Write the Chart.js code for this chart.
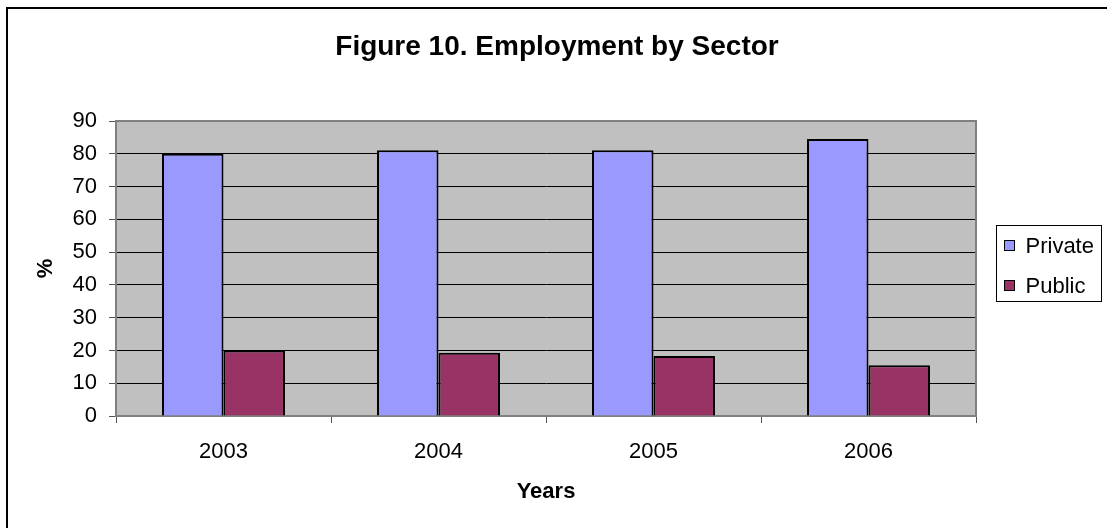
<!DOCTYPE html>
<html lang="en">
<head>
    <meta charset="UTF-8">
    <title>Employment by Sector</title>
    <script src="https://cdn.jsdelivr.net/npm/chart.js"></script>
    <style>
        html, body {
            margin: 0;
            padding: 0;
            background: #ffffff;
        }
        canvas {
            display: block;
        }
    </style>
</head>
<body>
<canvas id="sectorChart" width="1107" height="528"></canvas>

<script>
    // Share of employment (%) by sector
    const years = ["2003", "2004", "2005", "2006"];
    const privateShare = [80, 81.1, 81.1, 84.5];
    const publicShare = [20, 19.3, 18.3, 15.5];
    const yTicks = [0, 10, 20, 30, 40, 50, 60, 70, 80, 90];

    const FONT = "'Liberation Sans', Arial, sans-serif";

    // Frame, title, grey plot background and boxed legend
    const decorations = {
        id: 'decorations',
        beforeDraw(chart) {
            const {ctx, chartArea: a} = chart;
            ctx.save();
            ctx.fillStyle = '#ffffff';
            ctx.fillRect(0, 0, chart.width, chart.height);
            ctx.strokeStyle = '#000000';
            ctx.lineWidth = 2;
            ctx.strokeRect(7, 8, chart.width + 10, chart.height + 10);

            ctx.fillStyle = '#000000';
            ctx.font = 'bold 28px ' + FONT;
            ctx.textAlign = 'center';
            ctx.textBaseline = 'middle';
            ctx.fillText('Figure 10. Employment by Sector', 557, 47);

            ctx.fillStyle = '#c0c0c0';
            ctx.fillRect(a.left, a.top, a.right - a.left, a.bottom - a.top);
            ctx.restore();
        },
        afterDraw(chart) {
            const {ctx, chartArea: a} = chart;
            ctx.save();
            ctx.strokeStyle = '#808080';
            ctx.lineWidth = 2;
            ctx.beginPath();
            ctx.moveTo(a.left, a.top);
            ctx.lineTo(a.right, a.top);
            ctx.lineTo(a.right, a.bottom);
            ctx.stroke();

            // legend
            const boxW = 105, boxH = 76;
            const bx = a.right + 20.5;
            const by = Math.round((a.top + a.bottom) / 2 - boxH / 2) + 0.5 - 6;
            ctx.fillStyle = '#ffffff';
            ctx.fillRect(bx, by, boxW, boxH);
            ctx.strokeStyle = '#000000';
            ctx.lineWidth = 1;
            ctx.strokeRect(bx, by, boxW, boxH);

            ctx.font = '22px ' + FONT;
            ctx.textAlign = 'left';
            ctx.textBaseline = 'middle';
            chart.data.datasets.forEach((ds, i) => {
                const cy = by + 20 + i * 40;
                ctx.fillStyle = ds.backgroundColor;
                ctx.fillRect(bx + 8, cy - 5, 10, 10);
                ctx.strokeRect(bx + 8, cy - 5, 10, 10);
                ctx.fillStyle = '#000000';
                ctx.fillText(ds.label, bx + 29, cy + 1);
            });
            ctx.restore();
        }
    };

    new Chart(document.getElementById('sectorChart'), {
        type: 'bar',
        data: {
            labels: years,
            datasets: [
                {
                    label: 'Private',
                    data: privateShare,
                    backgroundColor: '#9999ff',
                    borderColor: '#000000',
                    borderWidth: 2,
                    categoryPercentage: 0.572,
                    barPercentage: 1.0
                },
                {
                    label: 'Public',
                    data: publicShare,
                    backgroundColor: '#993366',
                    borderColor: '#000000',
                    borderWidth: 2,
                    categoryPercentage: 0.572,
                    barPercentage: 1.0
                }
            ]
        },
        options: {
            responsive: false,
            animation: false,
            devicePixelRatio: 1,
            layout: {
                padding: {top: 121, right: 131, left: 0, bottom: 0}
            },
            plugins: {
                legend: {display: false},
                title: {display: false},
                tooltip: {enabled: false}
            },
            scales: {
                x: {
                    grid: {
                        offset: true,
                        drawOnChartArea: false,
                        drawTicks: true,
                        tickLength: 7,
                        tickColor: '#555555'
                    },
                    border: {color: '#808080', width: 2},
                    ticks: {
                        color: '#000000',
                        padding: 16,
                        font: {family: FONT, size: 22}
                    },
                    title: {
                        display: true,
                        text: 'Years',
                        color: '#000000',
                        font: {family: FONT, size: 22, weight: 'bold'},
                        padding: {top: 0, bottom: 23}
                    },
                    afterFit(scale) { scale.height = 112; }
                },
                y: {
                    min: 0,
                    max: 90,
                    afterBuildTicks(scale) {
                        scale.ticks = yTicks.map(v => ({value: v}));
                    },
                    grid: {
                        color: ctx => ctx.tick && ctx.tick.value === 90 ? '#808080' : '#000000',
                        tickColor: '#555555',
                        tickLength: 7,
                        lineWidth: 1
                    },
                    border: {color: '#808080', width: 2},
                    ticks: {
                        color: '#000000',
                        padding: 12,
                        font: {family: FONT, size: 22}
                    },
                    title: {
                        display: true,
                        text: '%',
                        color: '#000000',
                        font: {family: FONT, size: 22, weight: 'bold'},
                        padding: {top: 33, bottom: 0}
                    },
                    afterFit(scale) { scale.width = 116; }
                }
            }
        },
        plugins: [decorations]
    });
</script>
</body>
</html>
